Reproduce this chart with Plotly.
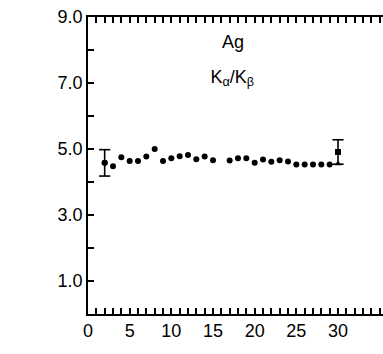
import plotly.graph_objects as go

# Data
energy = [2, 3, 4, 5, 6, 7, 8, 9, 10, 11, 12, 13, 14, 15,
          17, 18, 19, 20, 21, 22, 23, 24, 25, 26, 27, 28, 29]
ratio = [4.58, 4.48, 4.75, 4.64, 4.64, 4.77, 5.00, 4.64, 4.72, 4.78, 4.82, 4.69, 4.77, 4.66,
         4.65, 4.72, 4.72, 4.58, 4.68, 4.61, 4.66, 4.62, 4.53, 4.53, 4.53, 4.53, 4.53]
err_energy = [2]
err_ratio = [4.58]
err_size = [0.40]
sq_energy = [30]
sq_ratio = [4.91]
sq_err = [0.37]
tri_energy = [30]
tri_ratio = [4.55]

y_tickvals = [1, 2, 3, 4, 5, 6, 7, 8, 9]
y_ticktext = ["1.0", "", "3.0", "", "5.0", "", "7.0", "", "9.0"]
x_tickvals = list(range(0, 36))
x_ticktext = [str(v) if v % 5 == 0 and v <= 30 else "" for v in x_tickvals]

FONT = "Liberation Sans, Arial, sans-serif"
TXT = dict(family=FONT, size=18, color="black")

fig = go.Figure()
fig.add_trace(go.Scatter(x=energy, y=ratio, mode="markers",
                         marker=dict(color="black", size=6), showlegend=False))

# error bars built from the data arrays (stem + caps)
bar_x, bar_y, cap_x, cap_y = [], [], [], []
for xs, ys, es in ((err_energy, err_ratio, err_size), (sq_energy, sq_ratio, sq_err)):
    for xv, yv, ev in zip(xs, ys, es):
        bar_x += [xv, xv, None]
        bar_y += [yv - ev, yv + ev, None]
        cap_x += [xv, xv]
        cap_y += [yv - ev, yv + ev]
fig.add_trace(go.Scatter(x=bar_x, y=bar_y, mode="lines",
                         line=dict(color="black", width=1.6), showlegend=False))
fig.add_trace(go.Scatter(x=cap_x, y=cap_y, mode="markers",
                         marker=dict(symbol="line-ew", size=8,
                                     line=dict(color="black", width=1.6)),
                         showlegend=False))

fig.add_trace(go.Scatter(x=err_energy, y=err_ratio, mode="markers",
                         marker=dict(color="black", size=6), showlegend=False))
fig.add_trace(go.Scatter(x=sq_energy, y=sq_ratio, mode="markers",
                         marker=dict(color="black", size=6, symbol="square"),
                         showlegend=False))
fig.add_trace(go.Scatter(x=tri_energy, y=tri_ratio, mode="markers",
                         marker=dict(color="black", size=6, symbol="triangle-up"),
                         showlegend=False))

# texts as text traces (positions in axis units)
fig.add_trace(go.Scatter(x=[17.4], y=[8.2], mode="text", text=["Ag"],
                         textfont=TXT, textposition="middle center",
                         showlegend=False, hoverinfo="skip", cliponaxis=False))
fig.add_trace(go.Scatter(x=[17.3], y=[7.15], mode="text",
                         text=["K<sub>α</sub>/K<sub>β</sub>"],
                         textfont=TXT, textposition="middle center",
                         showlegend=False, hoverinfo="skip", cliponaxis=False))
fig.add_trace(go.Scatter(x=[-6.6], y=[5.7], mode="text",
                         text=["K<sub>α</sub>/K<sub>β</sub>"],
                         textfont=TXT, textposition="middle center",
                         showlegend=False, hoverinfo="skip", cliponaxis=False))
fig.add_trace(go.Scatter(x=[19.6], y=[-1.0], mode="text",
                         text=["BEAM  ENERGY   (MeV)"],
                         textfont=TXT, textposition="middle center",
                         showlegend=False, hoverinfo="skip", cliponaxis=False))

fig.update_layout(
    xaxis=dict(range=[0, 35.4], tickmode="array", tickvals=x_tickvals, ticktext=x_ticktext,
               ticks="inside", ticklen=6, tickwidth=1.5, tickcolor="black",
               showline=True, linecolor="black", linewidth=1.5, mirror="ticks",
               showgrid=False, zeroline=False, tickfont=TXT),
    yaxis=dict(range=[0, 9], tickmode="array", tickvals=y_tickvals, ticktext=y_ticktext,
               ticks="inside", ticklen=6, tickwidth=1.5, tickcolor="black",
               showline=True, linecolor="black", linewidth=1.5,
               showgrid=False, zeroline=False, tickfont=TXT),
)

fig.update_layout(width=383, height=354, margin=dict(l=88, r=0, t=17, b=40),
                  paper_bgcolor="white", plot_bgcolor="white")

fig.write_html("out.html")
